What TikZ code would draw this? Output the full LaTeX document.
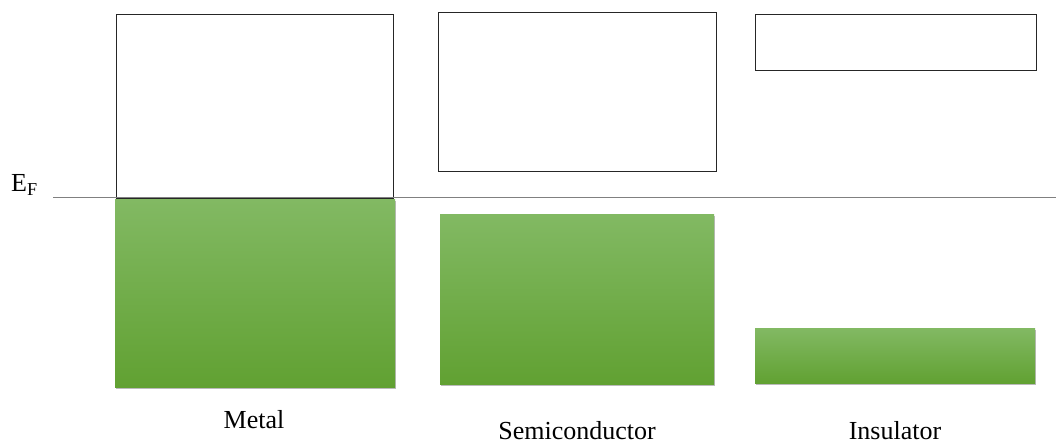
\documentclass[tikz,border=0pt]{standalone}
\usepackage{fontspec}
\setmainfont{Liberation Serif}
\usetikzlibrary{shadows}
\definecolor{gtop}{HTML}{82B963}
\definecolor{gbot}{HTML}{61A132}
\begin{document}
\begin{tikzpicture}[x=1pt,y=-1pt,
  band/.style={draw=black!85, line width=1pt, fill=white, inner sep=0pt, anchor=north west},
  filled/.style={inner sep=0pt, anchor=north west, top color=gtop, bottom color=gbot,
    drop shadow={shadow xshift=0.8pt, shadow yshift=-1.5pt, fill=black!45, opacity=0.6}},
  lab/.style={font=\fontsize{26}{30}\selectfont, anchor=base}]
\useasboundingbox (0,0) rectangle (1056,443);
% conduction bands (empty)
\node[band, minimum width=277pt, minimum height=184pt] (mc) at (116,14) {};
\node[band, minimum width=278pt, minimum height=159pt] (sc) at (438,12) {};
\node[band, minimum width=281pt, minimum height=56pt] (ic) at (755,14) {};
% valence bands (filled)
\node[filled, minimum width=280pt, minimum height=188pt] (mv) at (115,199) {};
\node[filled, minimum width=274pt, minimum height=170pt] (sv) at (440,214) {};
\node[filled, minimum width=280pt, minimum height=55pt] (iv) at (755,328) {};
% Fermi level
\coordinate (fl) at (53,198);
\coordinate (fr) at (1056,198);
\draw[black!50, line width=1pt] (fl) -- (fr);
\node[font=\fontsize{26}{30}\selectfont, anchor=base west, inner sep=0pt] (ef) at (11,192) {E\textsubscript{F}};
% labels
\node[lab] (lm) at (254,428) {Metal};
\node[lab] (ls) at (577,439) {Semiconductor};
\node[lab] (li) at (895,439) {Insulator};
\end{tikzpicture}
\end{document}
